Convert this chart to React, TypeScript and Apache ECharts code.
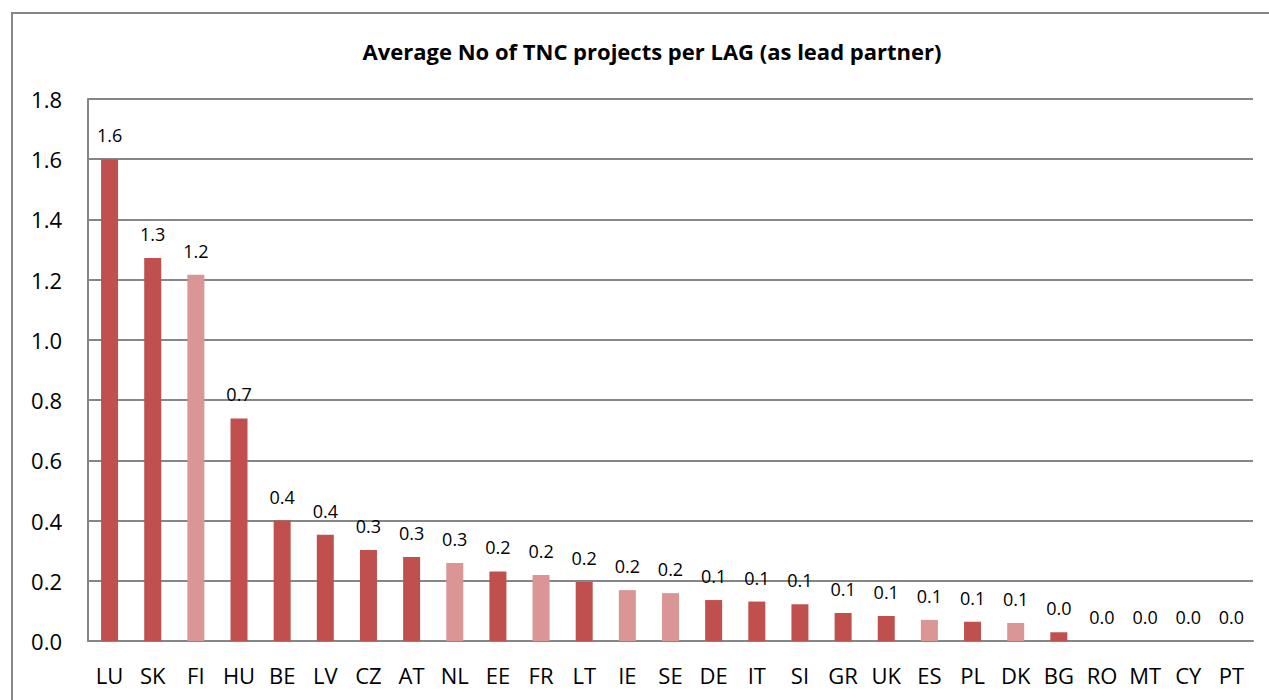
import React, { useEffect, useRef } from "react";
import * as echarts from "echarts";

const categories = ["LU","SK","FI","HU","BE","LV","CZ","AT","NL","EE","FR","LT","IE","SE","DE","IT","SI","GR","UK","ES","PL","DK","BG","RO","MT","CY","PT"];
const values = [1.6,1.272,1.216,0.739,0.40,0.353,0.302,0.279,0.259,0.231,0.219,0.196,0.169,0.159,0.136,0.131,0.122,0.093,0.083,0.070,0.064,0.060,0.029,0,0,0,0];
const lightBars = ["FI","NL","FR","IE","SE","ES","DK"];
const yTicks = [0, 0.2, 0.4, 0.6, 0.8, 1.0, 1.2, 1.4, 1.6, 1.8];

const DARK = "#C0504D";
const LIGHT = "#D99694";
const FONT = "'Open Sans', 'Noto Sans', sans-serif";

export default function App() {
  const ref = useRef<HTMLDivElement>(null);
  useEffect(() => {
    document.body.style.margin = "0";
    const chart = echarts.init(ref.current!, undefined, { renderer: "svg" });
    chart.setOption({
      animation: false,
      backgroundColor: "#ffffff",
      title: {
        text: "Average No of TNC projects per LAG (as lead partner)",
        left: 647,
        textAlign: "center",
        top: 35,
        textStyle: { fontFamily: FONT, fontWeight: "bold", fontSize: 22, color: "#000" },
      },
      graphic: [
        {
          type: "rect",
          shape: { x: 12, y: 13, width: 1300, height: 720 },
          style: { fill: "none", stroke: "#868686", lineWidth: 2 },
          z: 100,
        },
      ],
      grid: { left: 88, right: 16, top: 99, bottom: 59, containLabel: false },
      xAxis: {
        type: "category",
        data: categories,
        axisLine: { show: true, lineStyle: { color: "#868686", width: 2 } },
        axisTick: { show: false },
        axisLabel: { fontFamily: FONT, fontSize: 22, color: "#000", margin: 23, interval: 0 },
      },
      yAxis: {
        type: "value",
        min: yTicks[0],
        max: yTicks[yTicks.length - 1],
        interval: 0.2,
        axisLine: { show: true, lineStyle: { color: "#868686", width: 2 } },
        axisTick: { show: false },
        splitLine: { show: true, lineStyle: { color: "#868686", width: 2 } },
        axisLabel: {
          fontFamily: FONT,
          fontSize: 22,
          color: "#000",
          margin: 26,
          formatter: (v: number) => v.toFixed(1),
        },
      },
      series: [
        {
          type: "bar",
          barWidth: 17,
          data: values.map((v, i) => ({
            value: v,
            itemStyle: { color: lightBars.includes(categories[i]) ? LIGHT : DARK },
          })),
          label: {
            show: true,
            position: "top",
            distance: 15,
            fontFamily: FONT,
            fontSize: 18,
            color: "#000",
            formatter: (p: any) => Number(p.value).toFixed(1),
          },
        },
      ],
    });
    return () => chart.dispose();
  }, []);
  return <div ref={ref} style={{ width: 1269, height: 700 }} />;
}
